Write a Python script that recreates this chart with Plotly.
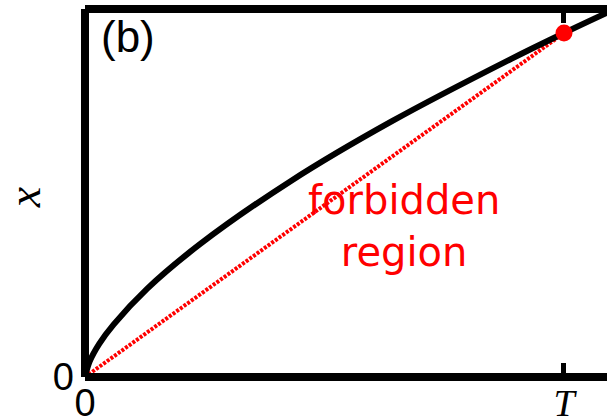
import plotly.graph_objects as go

# Trajectory x(t), read at sample times (t in units of T, x in units of x(T))
t_curve = [0.0, 0.01, 0.03, 0.06, 0.13, 0.24, 0.43, 0.64, 0.89, 1.0, 1.09]
x_curve = [0.0, 0.046, 0.097, 0.153, 0.257, 0.386, 0.570, 0.743, 0.925, 1.0, 1.059]

# Straight chord from the origin to the end point at t = T
t_chord = [0.0, 1.0]
x_chord = [0.0, 1.0]

# End point marker
t_end = [1.0]
x_end = [1.0]

x_tickvals = [0, 1]
x_ticktext = ["0", "<span style='font-family:Liberation Serif'><i>T</i></span>"]
y_tickvals = [0]
y_ticktext = ["0"]

X_MAX = 1.0898
Y_MAX = 1.0698

fig = go.Figure()
fig.add_trace(go.Scatter(x=t_chord, y=x_chord, mode="lines",
                         line=dict(color="#ff0000", width=4, dash="3px,1.5px"),
                         hoverinfo="skip"))
fig.add_trace(go.Scatter(x=t_curve, y=x_curve, mode="lines",
                         line=dict(color="black", width=6, shape="spline", smoothing=1.0),
                         hoverinfo="skip"))
fig.add_trace(go.Scatter(x=t_end, y=x_end, mode="markers",
                         marker=dict(color="#ff0000", size=17),
                         cliponaxis=False, hoverinfo="skip"))

# Frame: left, top and bottom spines
for x0, y0, x1, y1 in [(0, 0, 0, 1), (0, 1, 1, 1), (0, 0, 1, 0)]:
    fig.add_shape(type="line", xref="paper", yref="paper",
                  x0=x0, y0=y0, x1=x1, y1=y1,
                  line=dict(color="black", width=8), layer="above")

fig.add_annotation(x=0.666, y=0.44, xref="x", yref="y",
                   text="forbidden<br>region", showarrow=False,
                   xanchor="center", yanchor="middle",
                   font=dict(family="Comic Sans MS, DejaVu Sans", size=40, color="#ff0000"),
                   align="center")
fig.add_annotation(x=0.082, y=0.925, xref="paper", yref="paper",
                   text="(b)", showarrow=False, xanchor="center", yanchor="middle",
                   font=dict(family="Liberation Sans", size=44, color="black"))
fig.add_annotation(x=-0.116, y=0.49, xref="paper", yref="paper",
                   text="<i>x</i>", showarrow=False, textangle=-90,
                   xanchor="center", yanchor="middle",
                   font=dict(family="Liberation Serif", size=46, color="black"))

fig.update_xaxes(range=[0, X_MAX], showgrid=False, zeroline=False, showline=False,
                 automargin=False,
                 tickmode="array", tickvals=x_tickvals, ticktext=x_ticktext,
                 ticks="inside", ticklen=14, tickwidth=5, tickcolor="black",
                 mirror="ticks", ticklabelstandoff=0,
                 tickfont=dict(family="Liberation Sans", size=38, color="black"))
fig.update_yaxes(range=[0, Y_MAX], showgrid=False, zeroline=False, showline=False,
                 automargin=False,
                 tickmode="array", tickvals=y_tickvals, ticktext=y_ticktext,
                 ticks="", ticklabelstandoff=10,
                 tickfont=dict(family="Liberation Sans", size=38, color="black"))

fig.update_layout(width=607, height=420, showlegend=False,
                  margin=dict(l=85, r=0, t=9, b=43),
                  paper_bgcolor="white", plot_bgcolor="white")

fig.write_html("out.html")
